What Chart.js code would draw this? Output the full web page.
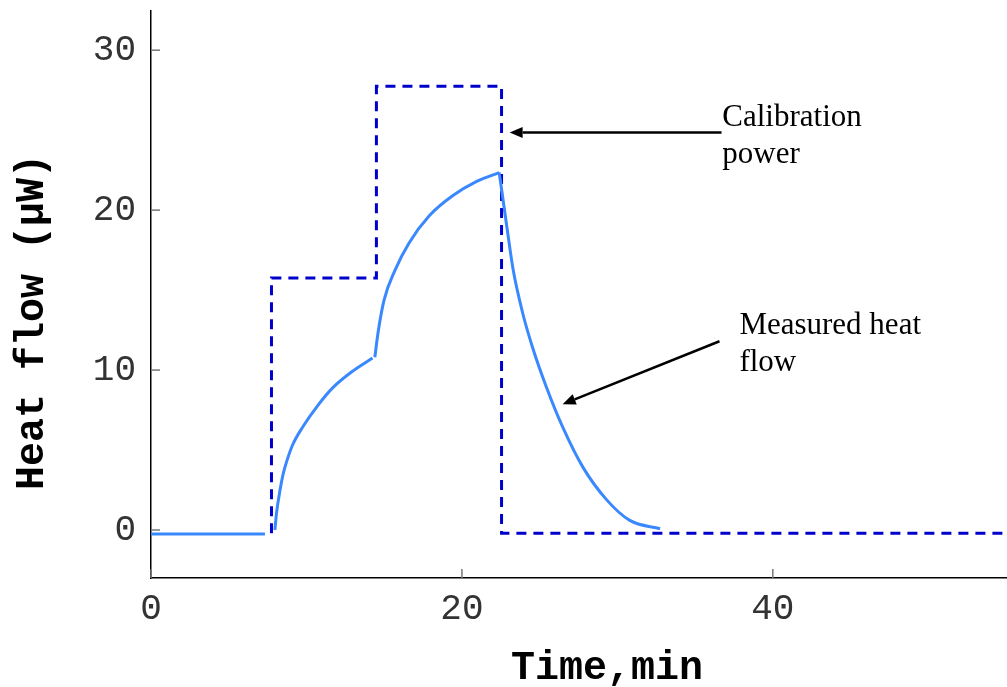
<!DOCTYPE html>
<html>
<head>
<meta charset="utf-8">
<script src="https://cdn.jsdelivr.net/npm/chart.js@4.4.1/dist/chart.umd.min.js"></script>
<style>
  html, body { margin: 0; padding: 0; background: #fff; }
  #wrap { width: 1007px; height: 687px; }
</style>
</head>
<body>
<div id="wrap"><canvas id="heat" width="1007" height="687"></canvas></div>
<script>
// calibration power (dashed step trace)
const calibTime  = [7.75, 7.75, 14.5, 14.5, 22.55, 22.55, 55];
const calibPower = [-0.2, 15.75, 15.75, 27.75, 27.75, -0.2, -0.2];

// measured heat flow, split where the trace breaks or kinks
const baseTime  = [0, 7.33];
const baseFlow  = [-0.25, -0.25];
const rise1Time = [7.97, 8.08, 8.3, 8.5, 8.7, 9.1, 9.8, 10.7, 11.7, 13.0, 14.25];
const rise1Flow = [0, 1.1, 2.5, 3.5, 4.2, 5.3, 6.5, 7.75, 8.9, 9.95, 10.75];
const rise2Time = [14.4, 14.6, 15.0, 15.7, 16.6, 17.9, 19.4, 20.95, 22.4];
const rise2Flow = [10.8, 12.3, 14.4, 16.25, 17.95, 19.65, 20.9, 21.8, 22.35];
const decayTime = [22.4, 22.9, 23.3, 23.9, 24.55, 25.45, 26.5, 27.8, 29.3, 30.8, 32.75];
const decayFlow = [22.35, 18.9, 16.25, 13.6, 11.4, 8.9, 6.4, 3.9, 1.9, 0.6, 0.08];

const xTicks = [0, 20, 40];
const yTicks = [0, 10, 20, 30];
const xTitle = 'Time,min';
const yTitle = 'Heat flow (µW)';
const calibNote = ['Calibration', 'power'];
const flowNote  = ['Measured heat', 'flow'];

const toPts = (xs, ys) => xs.map((v, i) => ({ x: v, y: ys[i] }));

const solidColor = '#3a88fe';
const dashColor = '#0000cc';

function solid(xs, ys) {
  return {
    data: toPts(xs, ys),
    borderColor: solidColor,
    borderWidth: 3,
    pointRadius: 0,
    cubicInterpolationMode: 'monotone',
    fill: false
  };
}

function arrow(ctx, x0, y0, x1, y1) {
  const ang = Math.atan2(y1 - y0, x1 - x0);
  const head = 13, half = 5.5;
  const bx = x1 - head * Math.cos(ang), by = y1 - head * Math.sin(ang);
  ctx.beginPath();
  ctx.moveTo(x0, y0);
  ctx.lineTo(bx, by);
  ctx.stroke();
  ctx.beginPath();
  ctx.moveTo(x1, y1);
  ctx.lineTo(bx + half * Math.sin(ang), by - half * Math.cos(ang));
  ctx.lineTo(bx - half * Math.sin(ang), by + half * Math.cos(ang));
  ctx.closePath();
  ctx.fill();
}

// inner tick marks, arrows, notes and axis titles
const extras = {
  id: 'extras',
  afterDraw(chart) {
    const { ctx, chartArea: a, scales: { x, y } } = chart;
    ctx.save();
    ctx.strokeStyle = '#777';
    ctx.lineWidth = 1.5;
    yTicks.forEach(v => {
      const py = y.getPixelForValue(v);
      ctx.beginPath(); ctx.moveTo(a.left, py); ctx.lineTo(a.left + 9, py); ctx.stroke();
    });
    xTicks.forEach(v => {
      const px = x.getPixelForValue(v);
      ctx.beginPath(); ctx.moveTo(px, a.bottom); ctx.lineTo(px, a.bottom - 9); ctx.stroke();
    });

    ctx.strokeStyle = '#000';
    ctx.fillStyle = '#000';
    ctx.lineWidth = 2.5;
    arrow(ctx, x.getPixelForValue(36.7), y.getPixelForValue(24.86),
               x.getPixelForValue(23.07), y.getPixelForValue(24.86));
    arrow(ctx, x.getPixelForValue(36.57), y.getPixelForValue(11.8),
               x.getPixelForValue(26.48), y.getPixelForValue(7.86));

    ctx.font = '31px "Liberation Serif"';
    ctx.textAlign = 'left';
    ctx.textBaseline = 'alphabetic';
    calibNote.forEach((t, i) => {
      ctx.fillText(t, x.getPixelForValue(36.75), y.getPixelForValue(25.25) + i * 37);
    });
    flowNote.forEach((t, i) => {
      ctx.fillText(t, x.getPixelForValue(37.85), y.getPixelForValue(12.23) + i * 37);
    });

    ctx.font = 'bold 40px "Liberation Mono"';
    ctx.textAlign = 'center';
    ctx.textBaseline = 'middle';
    ctx.fillText(xTitle, 607, 669);
    ctx.translate(33, 322);
    ctx.rotate(-Math.PI / 2);
    ctx.fillText(yTitle, 0, 0);
    ctx.restore();
  }
};

new Chart(document.getElementById('heat'), {
  type: 'line',
  data: {
    datasets: [
      solid(baseTime, baseFlow),
      solid(rise1Time, rise1Flow),
      solid(rise2Time, rise2Flow),
      solid(decayTime, decayFlow),
      {
        data: toPts(calibTime, calibPower),
        borderColor: dashColor,
        borderWidth: 3,
        borderDash: [10, 7],
        pointRadius: 0,
        tension: 0,
        fill: false
      }
    ]
  },
  options: {
    responsive: false,
    animation: false,
    layout: { padding: { top: 11, right: 1, left: 0, bottom: 0 } },
    plugins: { legend: { display: false }, tooltip: { enabled: false } },
    scales: {
      x: {
        type: 'linear',
        min: 0,
        max: 55,
        afterBuildTicks: s => { s.ticks = xTicks.map(v => ({ value: v })); },
        afterFit: s => { s.height = 109; s.paddingLeft = 0; s.paddingRight = 0; },
        grid: { display: false, drawTicks: false },
        border: { display: true, color: '#000', width: 1.5 },
        ticks: {
          padding: 10,
          maxRotation: 0,
          color: '#333',
          font: { family: '"Liberation Mono"', size: 36 }
        }
      },
      y: {
        type: 'linear',
        min: -3,
        max: 32.45,
        afterBuildTicks: s => { s.ticks = yTicks.map(v => ({ value: v })); },
        afterFit: s => { s.width = 151; s.paddingTop = 0; s.paddingBottom = 0; },
        grid: { display: false, drawTicks: false },
        border: { display: true, color: '#000', width: 1.5 },
        ticks: {
          padding: 15,
          color: '#333',
          font: { family: '"Liberation Mono"', size: 36 }
        }
      }
    }
  },
  plugins: [extras]
});
</script>
</body>
</html>
